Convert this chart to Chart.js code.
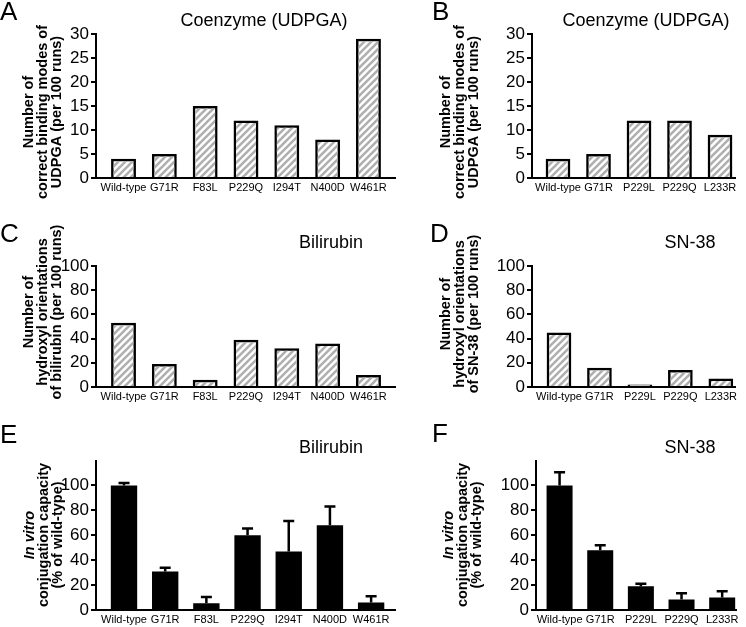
<!DOCTYPE html>
<html>
<head>
<meta charset="utf-8">
<script src="https://cdn.jsdelivr.net/npm/chart.js@4.4.0/dist/chart.umd.min.js"></script>
<style>
html, body { margin: 0; padding: 0; background: #fff; }
#wrap { position: relative; width: 746px; height: 627px; }
#wrap canvas { position: absolute; left: 0; top: 0; }
</style>
</head>
<body>
<div id="wrap">
  <canvas id="pa" width="746" height="627"></canvas>
  <canvas id="pb" width="746" height="627"></canvas>
  <canvas id="pc" width="746" height="627"></canvas>
  <canvas id="pd" width="746" height="627"></canvas>
  <canvas id="pe" width="746" height="627"></canvas>
  <canvas id="pf" width="746" height="627"></canvas>
</div>
<script>
var FONT = "'Liberation Sans', Arial, Helvetica, sans-serif";

// categories
var mutBili = ['Wild-type', 'G71R', 'F83L', 'P229Q', 'I294T', 'N400D', 'W461R'];
var mutSN = ['Wild-type', 'G71R', 'P229L', 'P229Q', 'L233R'];

// docking: correct UDPGA binding modes (per 100 runs)
var udpgaBili = [4, 5, 15, 12, 11, 8, 29];
var udpgaSN = [4, 5, 12, 12, 9];

// docking: hydroxyl orientations (per 100 runs)
var hydroxBili = [53, 19, 6, 39, 32, 36, 10];
var hydroxSN = [45, 16, 2, 14, 7];

// in vitro conjugation capacity (% of wild-type) and error (up)
var actBili = [100, 31, 5.5, 60, 47, 68, 6];
var errBili = [2, 3, 5, 5.5, 24.5, 15, 5];
var actSN = [100, 48, 19, 8.5, 10];
var errSN = [10.5, 4, 2, 5, 5];

// y tick labels
var ticksUdpga = [0, 5, 10, 15, 20, 25, 30];
var ticksHydrox = [0, 20, 40, 60, 80, 100];
var ticksAct = [0, 20, 40, 60, 80, 100];

var textPlugin = {
  id: 'panelText',
  afterDraw: function (chart, args, o) {
    var ctx = chart.ctx;
    ctx.save();
    ctx.fillStyle = '#000';
    ctx.textBaseline = 'alphabetic';
    ctx.textAlign = 'left';
    ctx.font = '26px ' + FONT;
    ctx.fillText(o.letter, o.lx, o.ly);
    ctx.textAlign = 'center';
    ctx.font = '18px ' + FONT;
    ctx.fillText(o.title, o.tx, o.ty);
    ctx.textBaseline = 'middle';
    for (var i = 0; i < o.ylines.length; i++) {
      var l = o.ylines[i];
      ctx.save();
      ctx.translate(o.yx[i], o.yy);
      ctx.rotate(-Math.PI / 2);
      ctx.font = (l.italic ? 'italic ' : '') + 'bold 14.5px ' + FONT;
      ctx.fillText(l.text, 0, 0);
      ctx.restore();
    }
    ctx.restore();
  }
};

var errPlugin = {
  id: 'errBars',
  afterDatasetsDraw: function (chart, args, o) {
    if (!o.err) return;
    var ctx = chart.ctx, ys = chart.scales.y;
    var meta = chart.getDatasetMeta(0);
    var vals = chart.data.datasets[0].data;
    ctx.save();
    ctx.strokeStyle = '#000';
    ctx.lineWidth = 2.5;
    for (var i = 0; i < o.err.length; i++) {
      var x = meta.data[i].x;
      var y0 = ys.getPixelForValue(vals[i].y);
      var y1 = ys.getPixelForValue(vals[i].y + o.err[i]);
      ctx.beginPath();
      ctx.moveTo(x, y0);
      ctx.lineTo(x, y1);
      ctx.moveTo(x - 5.5, y1);
      ctx.lineTo(x + 5.5, y1);
      ctx.stroke();
    }
    ctx.restore();
  }
};

function hatchFor(ctx) {
  var c = document.createElement('canvas');
  c.width = 7; c.height = 7;
  var g = c.getContext('2d');
  g.strokeStyle = '#b0b0b0';
  g.lineWidth = 2.6;
  g.beginPath();
  g.moveTo(-1, 8); g.lineTo(8, -1);
  g.moveTo(-4.5, 4.5); g.lineTo(4.5, -4.5);
  g.moveTo(2.5, 11.5); g.lineTo(11.5, 2.5);
  g.stroke();
  return ctx.createPattern(c, 'repeat');
}

function panel(p) {
  var canvas = document.getElementById(p.id);
  var ctx = canvas.getContext('2d');
  var YW = 60, XH = 20;
  var fill = p.hatch ? hatchFor(ctx) : '#000';
  new Chart(canvas, {
    type: 'bar',
    data: {
      datasets: [{
        data: p.vals.map(function (v, i) { return { x: i, y: v }; }),
        backgroundColor: fill,
        borderColor: '#000',
        borderWidth: p.hatch ? 2.5 : 0,
        categoryPercentage: 1,
        barPercentage: p.bar
      }]
    },
    options: {
      responsive: false,
      animation: false,
      layout: {
        padding: { left: p.left - YW, right: 746 - p.right, top: p.top, bottom: 627 - p.bottom - XH }
      },
      plugins: {
        legend: { display: false },
        tooltip: { enabled: false },
        panelText: p.text,
        errBars: { err: p.err }
      },
      scales: {
        x: {
          type: 'linear',
          offset: false,
          min: p.xmin, max: p.xmax,
          afterBuildTicks: function (s) { s.ticks = p.cats.map(function (c, i) { return { value: i }; }); },
          afterFit: function (s) { s.height = XH; },
          grid: { display: false, drawTicks: false, offset: false },
          border: { display: true, color: '#000', width: 2 },
          ticks: {
            autoSkip: false, maxRotation: 0, color: '#000', padding: 3,
            font: { family: FONT, size: 11 },
            callback: function (v) { return p.cats[v]; }
          }
        },
        y: {
          min: 0, max: p.ymax,
          afterBuildTicks: function (s) { s.ticks = p.yticks.map(function (v) { return { value: v }; }); },
          afterFit: function (s) { s.width = YW; },
          grid: { drawOnChartArea: false, drawTicks: true, tickLength: 5, color: '#000', lineWidth: 2 },
          border: { display: true, color: '#000', width: 2 },
          ticks: { color: '#000', padding: 2, font: { family: FONT, size: 17 } }
        }
      }
    },
    plugins: [textPlugin, errPlugin]
  });
}

var yUdpga = [{ text: 'Number of' }, { text: 'correct binding modes of' }, { text: 'UDPGA (per 100 runs)' }];
var yAct = [{ text: 'In vitro', italic: true }, { text: 'conjugation capacity' }, { text: '(% of wild-type)' }];

panel({ id: 'pa', cats: mutBili, vals: udpgaBili, yticks: ticksUdpga, ymax: 30, hatch: true, bar: 0.61,
  left: 96, right: 395, top: 34, bottom: 178, xmin: -0.674, xmax: 6.65,
  text: { letter: 'A', lx: 0, ly: 20, title: 'Coenzyme (UDPGA)', tx: 264, ty: 26, ylines: yUdpga, yx: [28.5, 42.5, 56.5], yy: 112 } });

panel({ id: 'pb', cats: mutSN, vals: udpgaSN, yticks: ticksUdpga, ymax: 30, hatch: true, bar: 0.61,
  left: 532, right: 735, top: 34, bottom: 178, xmin: -0.642, xmax: 4.37,
  text: { letter: 'B', lx: 432, ly: 20, title: 'Coenzyme (UDPGA)', tx: 646, ty: 26, ylines: yUdpga, yx: [445.5, 459.5, 473.5], yy: 112 } });

panel({ id: 'pc', cats: mutBili, vals: hydroxBili, yticks: ticksHydrox, ymax: 100, hatch: true, bar: 0.61,
  left: 96, right: 395, top: 266, bottom: 387, xmin: -0.674, xmax: 6.65,
  text: { letter: 'C', lx: 0, ly: 242, title: 'Bilirubin', tx: 331, ty: 248,
    ylines: [{ text: 'Number of' }, { text: 'hydroxyl orientations' }, { text: 'of bilirubin (per 100 runs)' }], yx: [28.5, 42.5, 56.5], yy: 312 } });

panel({ id: 'pd', cats: mutSN, vals: hydroxSN, yticks: ticksHydrox, ymax: 100, hatch: true, bar: 0.61,
  left: 532, right: 735, top: 266, bottom: 387, xmin: -0.667, xmax: 4.35,
  text: { letter: 'D', lx: 430, ly: 242, title: 'SN-38', tx: 690, ty: 248,
    ylines: [{ text: 'Number of' }, { text: 'hydroxyl orientations' }, { text: 'of SN-38 (per 100 runs)' }], yx: [445.5, 459.5, 473.5], yy: 314 } });

panel({ id: 'pe', cats: mutBili, vals: actBili, err: errBili, yticks: ticksAct, ymax: 120, hatch: false, bar: 0.64,
  left: 96, right: 395, top: 460.5, bottom: 610, xmin: -0.68, xmax: 6.58,
  text: { letter: 'E', lx: 0, ly: 443, title: 'Bilirubin', tx: 331, ty: 453, ylines: yAct, yx: [29.5, 43.5, 57.5], yy: 535 } });

panel({ id: 'pf', cats: mutSN, vals: actSN, err: errSN, yticks: ticksAct, ymax: 120, hatch: false, bar: 0.64,
  left: 536, right: 736, top: 460.5, bottom: 610, xmin: -0.58, xmax: 4.34,
  text: { letter: 'F', lx: 432, ly: 442, title: 'SN-38', tx: 690, ty: 453, ylines: yAct, yx: [448.5, 462.5, 476.5], yy: 535 } });
</script>
</body>
</html>
